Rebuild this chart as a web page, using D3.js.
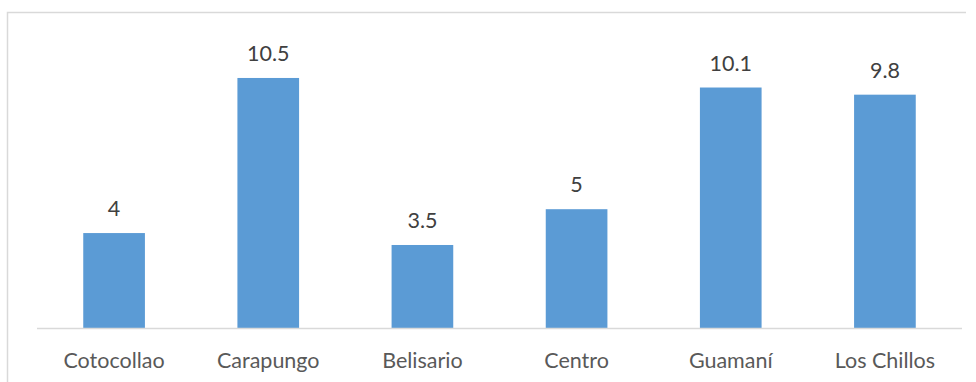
<!DOCTYPE html>
<html>
<head>
<meta charset="utf-8">
<script src="https://cdn.jsdelivr.net/npm/d3@7"></script>
<style>
  html, body { margin: 0; padding: 0; background: #fff; }
  svg { display: block; }
</style>
</head>
<body>
<svg id="chart" width="976" height="382"></svg>
<script>
const categories = ["Cotocollao", "Carapungo", "Belisario", "Centro", "Guamaní", "Los Chillos"];
const values = [4, 10.5, 3.5, 5, 10.1, 9.8];
const valueLabels = ["4", "10.5", "3.5", "5", "10.1", "9.8"];

const svg = d3.select("#chart");
const font = "Lato, 'Open Sans', sans-serif";

// chart area frame (top and left edges visible)
svg.append("path")
  .attr("d", "M7.5,400 V12.5 H966")
  .attr("fill", "none")
  .attr("stroke", "#d9d9d9")
  .attr("stroke-width", 1.5);

const left = 37, right = 962, baseline = 328.5;
const x = d3.scaleBand()
  .domain(categories)
  .range([left, right])
  .paddingInner(0.6)
  .paddingOuter(0.3);

const y = d3.scaleLinear()
  .domain([0, 12])
  .range([baseline, baseline - 12 * 23.86]);

const data = categories.map((c, i) => ({ c, v: values[i], label: valueLabels[i] }));

svg.append("g").selectAll("rect")
  .data(data)
  .join("rect")
  .attr("x", d => x(d.c))
  .attr("y", d => y(d.v))
  .attr("width", x.bandwidth())
  .attr("height", d => y(0) - y(d.v))
  .attr("fill", "#5b9bd5");

// baseline axis
svg.append("line")
  .attr("x1", left).attr("x2", right)
  .attr("y1", baseline).attr("y2", baseline)
  .attr("stroke", "#d9d9d9")
  .attr("stroke-width", 1.5);

// value labels
svg.append("g").selectAll("text")
  .data(data)
  .join("text")
  .attr("x", d => x(d.c) + x.bandwidth() / 2)
  .attr("y", d => y(d.v) - 17)
  .attr("text-anchor", "middle")
  .attr("font-family", font)
  .attr("font-size", 21.5)
  .attr("fill", "#404040")
  .text(d => d.label);

// category labels
svg.append("g").selectAll("text")
  .data(data)
  .join("text")
  .attr("x", d => x(d.c) + x.bandwidth() / 2)
  .attr("y", 368)
  .attr("text-anchor", "middle")
  .attr("font-family", font)
  .attr("font-size", 21.5)
  .attr("fill", "#595959")
  .text(d => d.c);
</script>
</body>
</html>
